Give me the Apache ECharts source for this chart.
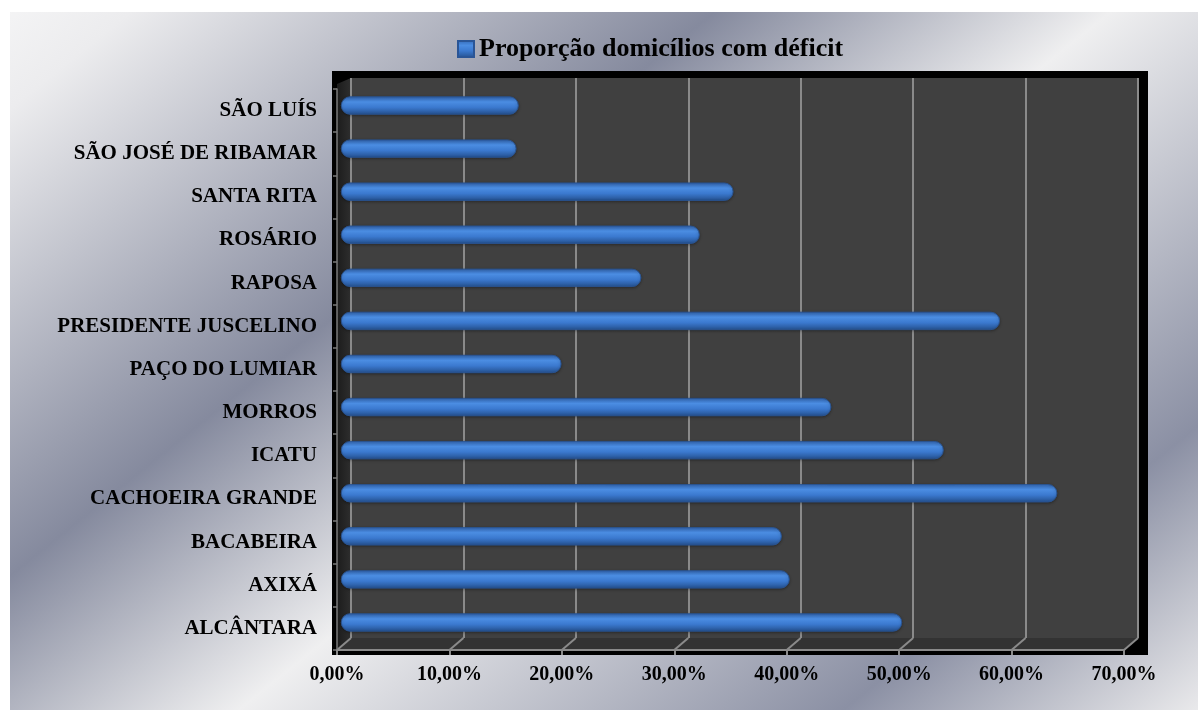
<!DOCTYPE html>
<html>
<head>
<meta charset="utf-8">
<script src="https://cdn.jsdelivr.net/npm/echarts@6/dist/echarts.min.js"></script>
<style>
html,body{margin:0;padding:0;background:#ffffff;}
#c{width:1198px;height:710px;}
</style>
</head>
<body>
<div id="c"></div>
<script>
const categories = ['SÃO LUÍS','SÃO JOSÉ DE RIBAMAR','SANTA RITA','ROSÁRIO','RAPOSA','PRESIDENTE JUSCELINO','PAÇO DO LUMIAR','MORROS','ICATU','CACHOEIRA GRANDE','BACABEIRA','AXIXÁ','ALCÂNTARA'];
const seriesName = 'Proporção domicílios com déficit';
const deficitValues = [15.8,15.6,34.9,31.9,26.7,58.6,19.6,43.6,53.6,63.7,39.2,39.9,49.9];
const xTickValues = [0,10,20,30,40,50,60,70];
const xTickLabels = ['0,00%','10,00%','20,00%','30,00%','40,00%','50,00%','60,00%','70,00%'];

const FONT = '"Liberation Serif","Times New Roman",serif';
const chart = echarts.init(document.getElementById('c'), null, {renderer:'canvas'});

const bgGrad = new echarts.graphic.LinearGradient(0,0,814,1017,[
  {offset:0, color:'#f5f5f6'},
  {offset:0.07, color:'#ececee'},
  {offset:0.35, color:'#858a9e'},
  {offset:0.54, color:'#efeff0'},
  {offset:0.83, color:'#8b90a4'},
  {offset:1, color:'#e9e9eb'}
], true);

const barGrad = new echarts.graphic.LinearGradient(0,0,0,1,[
  {offset:0, color:'#3368b5'},
  {offset:0.3, color:'#4b8de2'},
  {offset:0.6, color:'#3b79cf'},
  {offset:1, color:'#24508e'}
]);

const baseGraphics = [
  {type:'rect', z:-10, silent:true, shape:{x:10,y:12,width:1188,height:698}, style:{fill:bgGrad}},
  {type:'rect', z:-9, silent:true, shape:{x:332,y:71,width:816,height:584}, style:{fill:'#000000'}},
  {type:'rect', z:-8, silent:true, shape:{x:351,y:78,width:788,height:560}, style:{fill:'#404040'}},
  {type:'polygon', z:-8, silent:true, shape:{points:[[337,84],[351,78],[351,638],[337,650]]},
    style:{fill:new echarts.graphic.LinearGradient(0,0,1,0,[{offset:0,color:'#1c1c1c'},{offset:1,color:'#2e2e2e'}])}},
  {type:'polygon', z:-8, silent:true, shape:{points:[[337,650],[351,638],[1139,638],[1125,650]]}, style:{fill:'#333333'}}
];

const option = {
  animation:false,
  graphic: baseGraphics,
  legend:{
    data:[seriesName], left:452, top:31, icon:'rect', itemWidth:16, itemHeight:16, itemGap:6,
    textStyle:{fontFamily:FONT, fontWeight:'bold', fontSize:26, color:'#000'}
  },
  grid:[
    {left:351, right:60, top:78, bottom:72},
    {left:341, width:787, top:84, bottom:66},
    {left:337, width:787, top:89, bottom:60}
  ],
  xAxis:[
    {gridIndex:0, type:'value', min:0, max:70, interval:10,
      axisLine:{show:false}, axisTick:{show:false}, axisLabel:{show:false},
      splitLine:{show:true, lineStyle:{color:'#8a8a8a', width:2}}},
    {gridIndex:1, type:'value', min:0, max:70, interval:10, show:false, splitLine:{show:false}},
    {gridIndex:2, type:'value', min:0, max:70, interval:10,
      axisLine:{show:true, lineStyle:{color:'#8a8a8a', width:2}},
      axisTick:{show:true, length:5, lineStyle:{color:'#8a8a8a', width:2}},
      splitLine:{show:false},
      axisLabel:{margin:15, fontFamily:FONT, fontWeight:'bold', fontSize:20, color:'#000',
        formatter:function(v){ const i = xTickValues.indexOf(v); return i>=0 ? xTickLabels[i] : ''; }}}
  ],
  yAxis:[
    {gridIndex:0, type:'value', show:false, splitLine:{show:false}},
    {gridIndex:1, type:'category', data:categories, inverse:true, show:false},
    {gridIndex:2, type:'category', data:categories, inverse:true,
      axisLine:{show:true, lineStyle:{color:'#7a7a7a', width:1.5}},
      axisTick:{show:true, length:4, lineStyle:{color:'#7a7a7a', width:1.5}},
      axisLabel:{margin:20, fontFamily:FONT, fontWeight:'bold', fontSize:21, color:'#000'}}
  ],
  series:[{
    name:seriesName, type:'bar', xAxisIndex:1, yAxisIndex:1, data:deficitValues,
    barWidth:18,
    itemStyle:{color:barGrad, borderRadius:9, borderColor:'#2a5596', borderWidth:0.6,
      shadowColor:'rgba(0,0,0,0.35)', shadowBlur:3, shadowOffsetY:1}
  }]
};
chart.setOption(option);

// floor diagonal continuation of the gridlines
const diag = xTickValues.map(function(v){
  const xf = chart.convertToPixel({xAxisIndex:2}, v);
  const xb = chart.convertToPixel({xAxisIndex:0}, v);
  return {type:'line', z:-7, silent:true, shape:{x1:xf,y1:650,x2:xb,y2:638}, style:{stroke:'#8a8a8a', lineWidth:2}};
});
chart.setOption({graphic: baseGraphics.concat(diag)});
</script>
</body>
</html>
